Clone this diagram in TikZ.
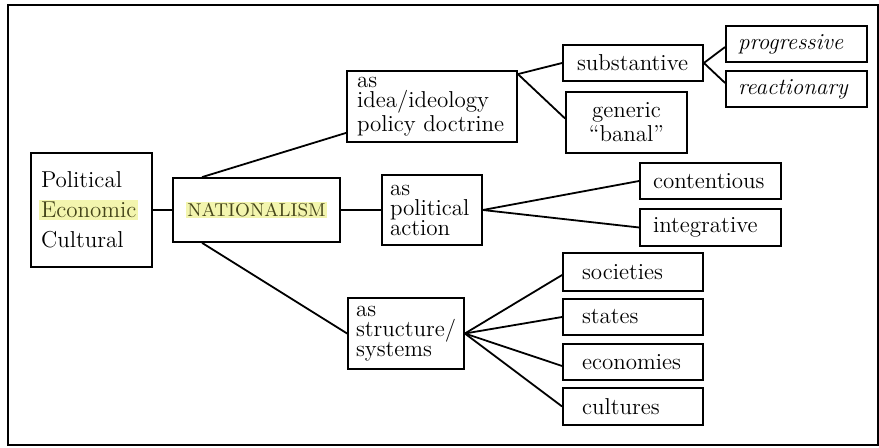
\documentclass[tikz,border=0pt]{standalone}
\usepackage{tikz}
\usetikzlibrary{positioning}
\definecolor{NatInk}{HTML}{45451A}
\definecolor{NatHighlight}{HTML}{F3F5AE}
\setlength{\lineskiplimit}{-20pt}
\newcommand{\hlword}[1]{{\setlength{\fboxsep}{0.8pt}\hspace*{-0.8pt}\colorbox{NatHighlight}{\color{NatInk}#1}\hspace*{-0.8pt}}}

\begin{document}
\begin{tikzpicture}[x=.5pt,y=-.5pt,
    box/.style={draw,line width=.9pt,font=\fontsize{11.5}{10}\selectfont,inner xsep=5pt,inner ysep=0pt,align=left},
    leaf/.style={box,minimum height=18pt,inner xsep=6.5pt,text width=57.5pt},
    link/.style={line width=.9pt}]
  \useasboundingbox (0,0) rectangle (879,448);
  \draw[line width=.9pt] (8,5) rectangle (878,445);

  \node[box,text width=50.5pt,minimum height=57pt,font=\fontsize{11.5}{15}\selectfont] (pec) at (91.5,210) {Political\\\hlword{Economic}\\Cultural};
  \node[box,align=center,minimum width=83.5pt,minimum height=32pt,font=\fontsize{9.3}{10}\selectfont] (nat) at (256.5,210) {\hlword{NATIONALISM}};

  \node[box,text width=75pt,minimum height=35.5pt] (idea) at (432,106.5) {as\\idea/ideology\\policy doctrine};
  \node[box,text width=42pt,inner xsep=4pt,minimum height=35pt] (polact) at (432,210) {as\\political\\action};
  \node[box,text width=50pt,inner xsep=4pt,minimum height=35.5pt] (struct) at (406,333.5) {as\\structure/\\systems};

  \node[leaf,text width=56pt,inner xsep=7pt] (subst) at (633,63) {substantive};
  \node[box,align=center,minimum width=60.5pt,minimum height=30.5pt,font=\fontsize{11.5}{12}\selectfont] (generic) at (626.5,122.5) {generic\\``banal''};
  \node[leaf,text width=58.5pt,inner xsep=6pt,font=\fontsize{11.5}{10}\selectfont\itshape] (prog) at (796.5,44) {progressive};
  \node[leaf,text width=58.5pt,inner xsep=6pt,font=\fontsize{11.5}{10}\selectfont\itshape] (react) at (796.5,89) {reactionary};

  \node[leaf] (cont) at (710.5,181) {contentious};
  \node[leaf,minimum height=18.5pt] (integ) at (710.5,227.5) {integrative};

  \node[leaf,text width=51pt,inner xsep=9.5pt,minimum height=19pt] (soc) at (633,272) {societies};
  \node[leaf,text width=51pt,inner xsep=9.5pt] (states) at (633,317) {states};
  \node[leaf,text width=51pt,inner xsep=9.5pt] (econ) at (633,362) {economies};
  \node[leaf,text width=51pt,inner xsep=9.5pt,minimum height=18.5pt] (cult) at (633,406.5) {cultures};

  % links
  \draw[link] (pec.east |- nat.west) -- (nat.west);
  \draw[link] ([xshift=15pt]nat.north west) -- ([yshift=5pt]idea.south west);
  \draw[link] (nat.east) -- (polact.west);
  \draw[link] ([xshift=15pt]nat.south west) -- (struct.west);
  \draw[link] ([yshift=-2pt]idea.north east) -- (subst.west);
  \draw[link] ([yshift=-2pt]idea.north east) -- ([yshift=2pt]generic.west);
  \draw[link] (subst.east) -- ([yshift=-1.5pt]prog.west);
  \draw[link] (subst.east) -- ([yshift=3pt]react.west);
  \draw[link] (polact.east) -- (cont.west);
  \draw[link] (polact.east) -- (integ.west);
  \foreach \leafname/\dy in {soc/-1.5,states/0,econ/-2,cult/0}
    \draw[link] (struct.east) -- ([yshift=\dy pt]\leafname.west);
\end{tikzpicture}
\end{document}
